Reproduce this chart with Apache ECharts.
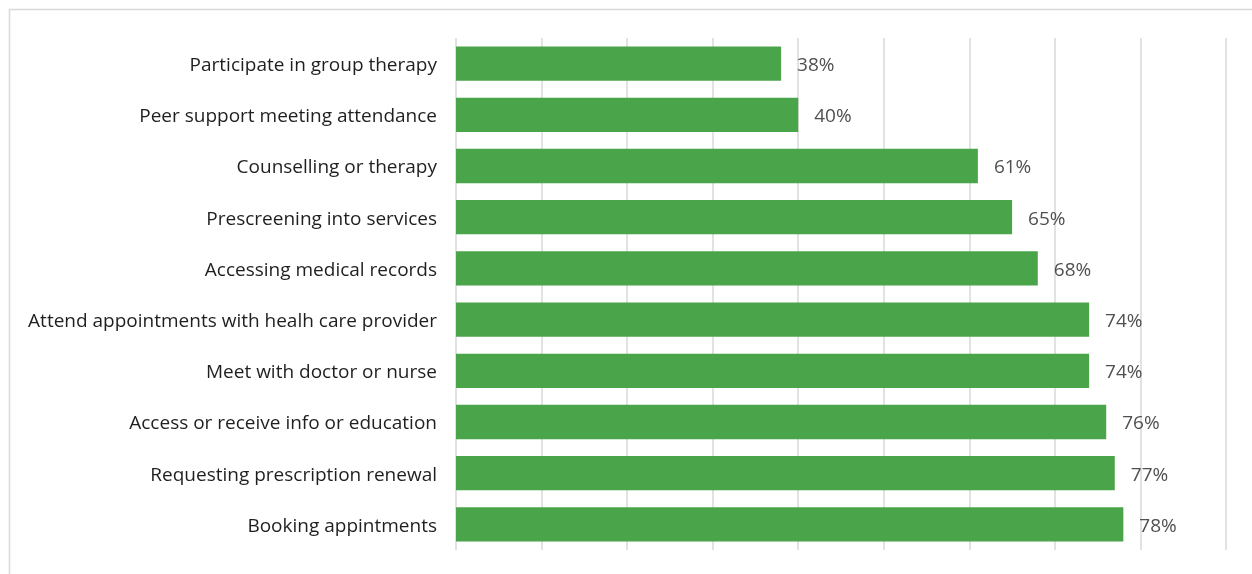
<!DOCTYPE html>
<html>
<head>
<meta charset="utf-8">
<script src="https://cdn.jsdelivr.net/npm/echarts@6/dist/echarts.min.js"></script>
<style>
  html, body { margin: 0; padding: 0; background: #ffffff; }
  #chart { width: 1252px; height: 574px; }
</style>
</head>
<body>
<div id="chart"></div>
<script>
// Activities, listed top to bottom
const categories = [
  'Participate in group therapy',
  'Peer support meeting attendance',
  'Counselling or therapy',
  'Prescreening into services',
  'Accessing medical records',
  'Attend appointments with healh care provider',
  'Meet with doctor or nurse',
  'Access or receive info or education',
  'Requesting prescription renewal',
  'Booking appintments'
];
// Share of respondents (%)
const values = [38, 40, 61, 65, 68, 74, 74, 76, 77, 78];

const font = 'Open Sans';
const chart = echarts.init(document.getElementById('chart'));
chart.setOption({
  animation: false,
  graphic: [{
    type: 'rect',
    shape: { x: 9.5, y: 9.5, width: 1300, height: 600 },
    style: { fill: 'none', stroke: '#d9d9d9', lineWidth: 1.5 },
    silent: true
  }],
  grid: { left: 456, right: 26, top: 38, bottom: 24, containLabel: false },
  xAxis: {
    type: 'value',
    min: 0,
    max: 90,
    interval: 10,
    axisLabel: { show: false },
    axisLine: { show: false },
    axisTick: { show: false },
    splitLine: { lineStyle: { color: '#d9d9d9', width: 1.5 } }
  },
  yAxis: {
    type: 'category',
    inverse: true,
    data: categories,
    axisLine: { show: false },
    axisTick: { show: false },
    axisLabel: {
      margin: 19,
      formatter: v => '{t|' + v + '}',
      rich: {
        t: { color: '#1f1f1f', fontSize: 19, fontFamily: font, padding: [4, 0, 0, 0] }
      }
    }
  },
  series: [{
    type: 'bar',
    data: values,
    barCategoryGap: '33%',
    itemStyle: { color: '#4aa44a' },
    label: {
      show: true,
      position: 'right',
      distance: 16,
      offset: [0, 2],
      formatter: p => p.value + '%',
      color: '#505050',
      fontSize: 19,
      fontFamily: font
    }
  }]
});
</script>
</body>
</html>
